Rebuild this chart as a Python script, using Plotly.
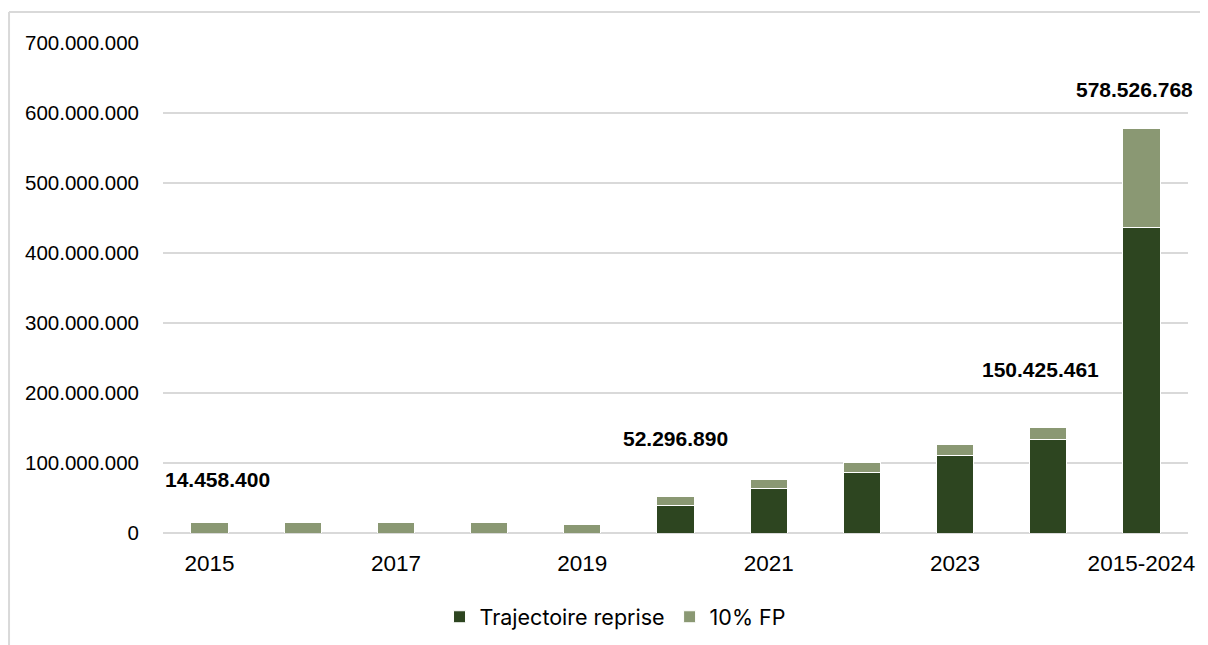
import plotly.graph_objects as go

# Données
categories = ["2015", "2016", "2017", "2018", "2019", "2020", "2021", "2022", "2023", "2024", "2015-2024"]
trajectoire_reprise = [0, 0, 0, 0, 0, 38_600_000, 62_900_000, 87_100_000, 111_400_000, 133_700_000, 436_600_000]
fp_10 = [14_458_400, 14_400_000, 14_800_000, 14_400_000, 12_000_000, 13_696_890, 13_800_000, 13_900_000,
         14_900_000, 16_725_461, 141_926_768]
tick_labels = ["2015", "2017", "2019", "2021", "2023", "2015-2024"]

label_cats = ["2015", "2020", "2024", "2015-2024"]
label_values = [14_458_400, 52_296_890, 150_425_461, 578_526_768]
label_y = [77_000_000, 135_000_000, 233_000_000, 634_000_000]
label_shift = [8, 0, -8, -7]

DARK = "#2d4520"
LIGHT = "#8a9873"
GRID = "#d9d9d9"

fig = go.Figure()

fig.add_trace(go.Bar(
    x=categories, y=trajectoire_reprise, name="Trajectoire reprise",
    marker=dict(color=DARK, line=dict(color="white", width=1)),
))
fig.add_trace(go.Bar(
    x=categories, y=fp_10, name="10% FP",
    marker=dict(color=LIGHT, line=dict(color="white", width=1)),
))

# Étiquettes de valeurs (en gras) ; x en indice de catégorie pour éviter "2015" lu comme nombre
for cat, val, y, dx in zip(label_cats, label_values, label_y, label_shift):
    fig.add_annotation(
        x=categories.index(cat), y=y, xref="x", yref="y",
        text="<b>" + f"{val:,}".replace(",", ".") + "</b>",
        showarrow=False, xshift=dx, yanchor="middle",
        font=dict(family="Liberation Sans", size=21, color="#000000"),
    )

# Cadre du graphique (haut et gauche)
fig.add_shape(type="line", xref="paper", yref="paper", x0=-0.1502, x1=1.1, y0=1.0633, y1=1.0633,
              line=dict(color=GRID, width=2))
fig.add_shape(type="line", xref="paper", yref="paper", x0=-0.1502, x1=-0.1502, y0=-0.25, y1=1.0633,
              line=dict(color=GRID, width=2))

fig.update_layout(
    width=1208, height=645,
    barmode="stack", bargap=0.6,
    separators=",.",
    plot_bgcolor="white", paper_bgcolor="white",
    margin=dict(l=155, r=28, t=35, b=120),
    font=dict(family="Liberation Sans", size=20, color="#000000"),
    showlegend=True,
    legend=dict(orientation="h", x=0.441, xanchor="center", y=-0.171, yanchor="middle",
                font=dict(family="Inter", size=21.5), traceorder="normal", itemwidth=30),
    xaxis=dict(
        type="category", tickmode="array", tickvals=tick_labels, ticktext=tick_labels,
        range=[-0.5, 10.5],
        showgrid=False, showline=False, ticks="", ticklabelstandoff=14,
        tickfont=dict(size=22.5),
    ),
    yaxis=dict(
        range=[0, 700_000_000], dtick=100_000_000, tickformat=",d",
        showgrid=True, gridcolor=GRID, gridwidth=1.5,
        zeroline=True, zerolinecolor=GRID, zerolinewidth=2,
        showline=False, ticks="", ticklabelstandoff=23,
        tickfont=dict(size=20.5),
    ),
)

fig.write_html("out.html")
